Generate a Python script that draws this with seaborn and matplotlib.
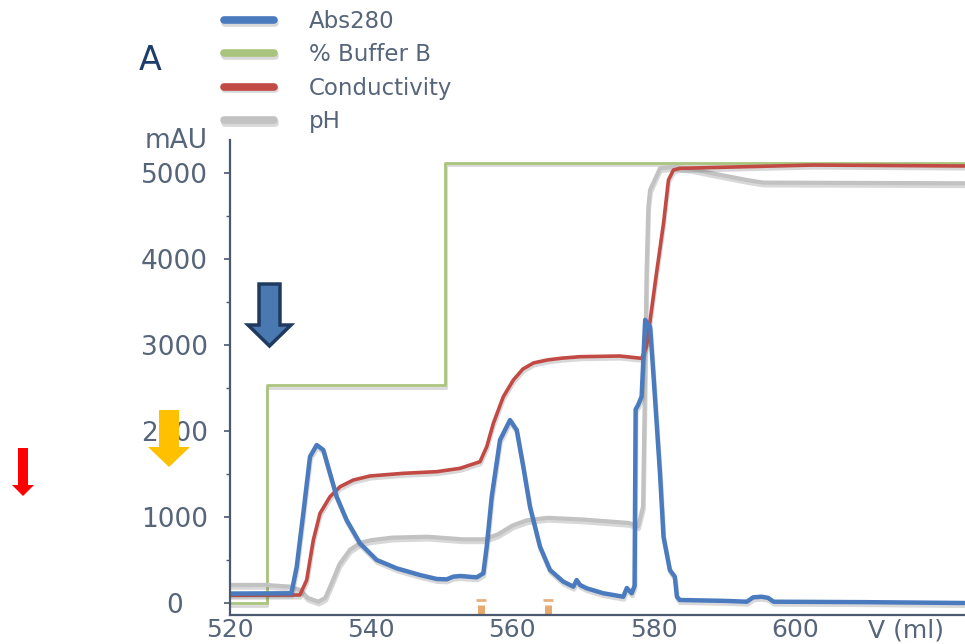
import numpy as np
import pandas as pd
import matplotlib.pyplot as plt
import matplotlib.patheffects as pe
from matplotlib.patches import Polygon
from matplotlib.ticker import MultipleLocator
from matplotlib.transforms import Affine2D
import seaborn as sns

# Chromatogram data (V in ml, signal in mAU)
abs_ml = [520, 528.7, 529.45, 530.38, 531.33, 532.28, 533.22, 534.16, 535.11, 536.52,
          538.41, 540.78, 543.61, 546.91, 549.28, 550.69, 551.63, 552.58, 554.94, 555.88,
          556.36, 557.07, 558.24, 559.66, 560.61, 561.54, 562.49, 563.91, 565.33, 567.21,
          568.63, 569.1, 569.58, 570.52, 572.88, 574.3, 575.7, 576.2, 576.9, 577.3,
          577.45, 577.8, 578.3, 578.8, 579.1, 579.5, 579.96, 580.9, 581.4, 582.3,
          583.0, 583.3, 583.7, 590, 593.2, 594.1, 595.3, 596.2, 597, 610, 624]
abs_mau = [110, 113, 422, 1042, 1700, 1836, 1778, 1507, 1235, 964,
           694, 500, 403, 325, 279, 275, 306, 314, 298, 345,
           654, 1235, 1894, 2126, 2010, 1584, 1119, 654, 383, 248,
           190, 267, 209, 171, 113, 93, 73, 174, 113, 200,
           2250, 2300, 2400, 3290, 3250, 3210, 2670, 1507, 770, 383,
           306, 73, 35, 25, 15, 66, 73, 60, 15, 10, 0]

buffer_ml = [520, 525.2, 525.2, 550.5, 550.5, 624]
buffer_mau = [0, 0, 2530, 2530, 5116, 5116]

cond_ml = [520, 529.9, 530.86, 531.8, 532.75, 534.16, 535.58, 537.46, 539.83, 544.55,
           549.28, 552.58, 555.41, 556.36, 557.3, 558.71, 560.13, 561.5, 563, 565,
           567, 569.6, 575.2, 578.3, 579.0, 580.4, 581.4, 582.1, 582.8, 583.7,
           593.2, 602.6, 624]
cond_mau = [90, 93, 267, 732, 1042, 1235, 1351, 1429, 1476, 1507,
            1526, 1565, 1642, 1816, 2088, 2397, 2591, 2720, 2790, 2825,
            2845, 2862, 2870, 2843, 2978, 3831, 4412, 4915, 5031, 5051,
            5070, 5089, 5078]

ph_ml = [520, 525, 528.5, 530, 531, 532.5, 533.5, 534.5, 535.5, 537,
         538.5, 540, 543, 548, 553, 556, 558, 560, 562, 565,
         570, 576.5, 577.8, 578.5, 578.8, 579.0, 579.25, 579.5, 580.9, 582.8,
         585.5, 588.5, 593.2, 595.5, 624]
ph_mau = [210, 210, 190, 150, 60, 15, 60, 250, 450, 620,
          700, 730, 760, 770, 740, 740, 800, 900, 960, 990,
          970, 930, 890, 1120, 2670, 3830, 4600, 4800, 5050, 5070,
          5040, 4990, 4915, 4885, 4877]

fraction_ml = [555.6, 565.1]

x_ticks = [520, 540, 560, 580, 600]
y_ticks = [0, 1000, 2000, 3000, 4000, 5000]

# Colours
blue = "#4a7bbf"
green = "#a9c47c"
red = "#c24a44"
grey = "#c2c2c2"
axis_col = "#4a5870"
text_col = "#56657a"

sns.set_theme(style="white")
plt.rcParams["font.family"] = ["DejaVu Sans"]

fig = plt.figure(figsize=(9.65, 6.44), dpi=100)
ax = fig.add_axes([230 / 965, 29 / 644, 735 / 965, 475 / 644])

shadow = [pe.SimpleLineShadow(offset=(0.5, -2), shadow_color="0.4", alpha=0.25), pe.Normal()]

# Drawing The Curves (order: green under grey under red under blue)
series = [
    (buffer_ml, buffer_mau, green, 2.0, "% Buffer B"),
    (ph_ml, ph_mau, grey, 3.0, "pH"),
    (cond_ml, cond_mau, red, 2.6, "Conductivity"),
    (abs_ml, abs_mau, blue, 3.2, "Abs280"),
]
handles = {}
for xs, ys, col, lw, name in series:
    df = pd.DataFrame({"V": xs, "mAU": ys})
    sns.lineplot(data=df, x="V", y="mAU", ax=ax, color=col, linewidth=lw,
                 estimator=None, sort=False, legend=False)
    line = ax.lines[-1]
    line.set_path_effects(shadow)
    handles[name] = line

# Fraction marks on the baseline
ax.vlines(fraction_ml, -139, -25, color="#e39a55", linewidth=5, alpha=0.85)
ax.plot(fraction_ml, [40, 40], linestyle="none", marker="_", markersize=7,
        color="#e8b080", markeredgewidth=2)

# Axes Styling
ax.set_xlim(520, 624.1)
ax.set_ylim(-139.4, 5380)
ax.set_xticks(x_ticks)
ax.set_yticks(y_ticks)
ax.yaxis.set_minor_locator(MultipleLocator(500))
ax.set_xlabel("")
ax.set_ylabel("")
for s in ["top", "right"]:
    ax.spines[s].set_visible(False)
for s in ["left", "bottom"]:
    ax.spines[s].set_color(axis_col)
    ax.spines[s].set_linewidth(1.6)
ax.tick_params(axis="y", which="major", left=True, length=4, width=1.2, color=axis_col,
               labelsize=19, labelcolor=text_col, pad=36)
ax.tick_params(axis="y", which="minor", left=True, length=3, width=1.0, color=axis_col)
ax.tick_params(axis="x", length=0, labelsize=18, labelcolor=text_col, pad=2.5)
# the y labels are centred in their column, not right aligned
for lab in ax.get_yticklabels():
    lab.set_horizontalalignment("center")

ax.annotate("V (ml)", xy=(615.8, 0), xycoords=("data", "axes fraction"),
            xytext=(0, -2.5), textcoords="offset points", ha="center", va="top",
            fontsize=18, color=text_col)

# Pixel helper for the figure decorations (origin top-left)
px = Affine2D().scale(1 / 965, -1 / 644).translate(0, 1) + fig.transFigure

fig.text(176, 141, "mAU", transform=px, ha="center", va="center", fontsize=19, color=text_col)
fig.text(150, 61, "A", transform=px, ha="center", va="center", fontsize=24, color="#1f3d6b")

# Legend
names = ["Abs280", "% Buffer B", "Conductivity", "pH"]
leg = fig.legend([handles[n] for n in names], names, loc="upper left",
                 bbox_to_anchor=(224 / 965, 1 - 10 / 644), frameon=False, fontsize=16.5,
                 handlelength=2.2, handletextpad=1.5, labelspacing=0.45,
                 borderpad=0, borderaxespad=0)
for t in leg.get_texts():
    t.set_color(text_col)
for h in leg.legend_handles:
    h.set_linewidth(5.5)


def arrow(x0, x1, y0, y1, hx0, hx1, hy, face, edge=None, lw=0):
    pts = [(x0, y0), (x1, y0), (x1, hy), (hx1, hy), ((hx0 + hx1) / 2, y1),
           (hx0, hy), (x0, hy)]
    fig.patches.append(Polygon(pts, closed=True, transform=px, facecolor=face,
                               edgecolor=edge if edge else face, linewidth=lw,
                               zorder=5))


arrow(259, 280, 284, 346, 248, 291, 325, "#4a78b0", "#1f3a5f", 2.5)
arrow(159, 179, 410, 467, 148, 190, 447, "#ffc000")
arrow(18, 28, 448, 496, 12, 34, 485, "#ff0000")

fig.savefig("out.png", dpi=100)
